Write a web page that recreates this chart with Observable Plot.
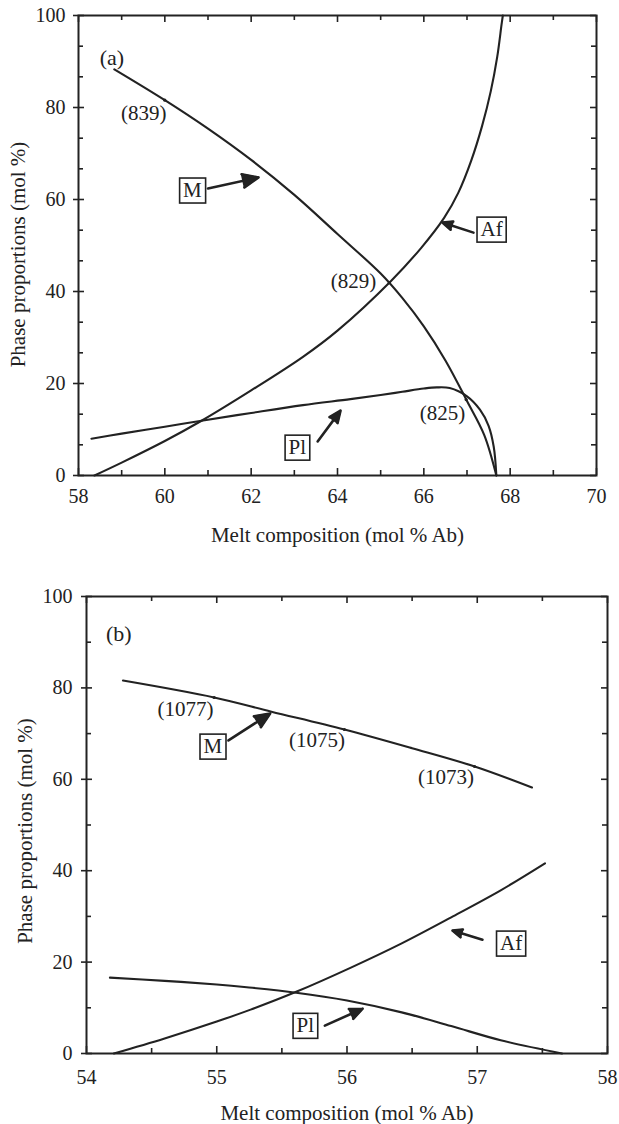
<!DOCTYPE html>
<html><head><meta charset="utf-8">
<script src="https://cdn.jsdelivr.net/npm/d3@7"></script>
<script src="https://cdn.jsdelivr.net/npm/@observablehq/plot@0.6"></script>
<style>
body{margin:0;background:#fff;}
#chart svg{display:block;}
</style></head><body><div id="chart"></div>
<script>
// ---------- Panel (a) data ----------
const aXLabel = "Melt composition (mol % Ab)";
const aYLabel = "Phase proportions (mol %)";
const aXTicks = [58, 60, 62, 64, 66, 68, 70];
const aXMinor = [59, 61, 63, 65, 67, 69];
const aYTicks = [0, 20, 40, 60, 80, 100];
const aYMinor = [6.67, 13.33, 26.67, 33.33, 46.67, 53.33, 66.67, 73.33, 86.67, 93.33];

const aM_x = [58.83, 60.0, 61.0, 62.0, 63.0, 64.0, 65.0, 65.5, 66.0, 66.5, 67.0, 67.4, 67.68];
const aM_y = [88.3, 81.6, 75.4, 68.6, 61.0, 52.5, 43.9, 38.6, 32.4, 25.0, 16.2, 8.8, 0];
const aAf_x = [58.37, 59.0, 60.0, 60.85, 62.0, 63.2, 64.0, 65.24, 65.94, 66.47, 66.8, 67.1, 67.35, 67.55, 67.7, 67.8, 67.83];
const aAf_y = [0, 2.8, 7.5, 11.9, 18.5, 25.8, 31.5, 42.3, 49.5, 56.0, 61.5, 68.5, 76.0, 83.5, 91.0, 98.0, 100];
const aPl_x = [58.3, 59.0, 60.0, 60.85, 62.0, 63.2, 64.3, 65.0, 65.5, 66.0, 66.3, 66.6, 67.0, 67.3, 67.5, 67.62, 67.68];
const aPl_y = [8.0, 9.1, 10.6, 11.9, 13.6, 15.3, 16.6, 17.5, 18.2, 18.9, 19.15, 19.0, 17.2, 14.3, 10.8, 6.2, 0];

const aNoteText = ["(839)", "(829)", "(825)"];
const aNoteX = [59.51, 64.37, 66.43];
const aNoteY = [78.7, 42.2, 13.5];
const aPointX = [60.0, 65.2, 66.98];
const aPointY = [81.6, 41.9, 16.5];
const aBoxText = ["M", "Af", "Pl"];
const aBoxX = [60.64, 67.57, 63.07];
const aBoxY = [62.0, 53.5, 6.1];
const aArrowX1 = [61.0, 67.15, 63.54];
const aArrowY1 = [62.4, 52.8, 7.4];
const aArrowX2 = [62.17, 66.43, 64.07];
const aArrowY2 = [64.8, 55.0, 14.1];
const aPanel = "(a)";
const aPanelX = 58.49, aPanelY = 90.7;

// ---------- Panel (b) data ----------
const bXTicks = [54, 55, 56, 57, 58];
const bXMinor = [54.5, 55.5, 56.5, 57.5];
const bYTicks = [0, 20, 40, 60, 80, 100];
const bYMinor = [10, 30, 50, 70, 90];

const bM_x = [54.28, 54.98, 55.42, 55.98, 56.5, 56.98, 57.42];
const bM_y = [81.6, 77.9, 74.8, 70.9, 66.8, 62.8, 58.2];
const bAf_x = [54.21, 54.6, 55.0, 55.26, 55.61, 56.03, 56.42, 56.8, 57.18, 57.52];
const bAf_y = [0, 3.3, 7.0, 9.6, 13.5, 18.8, 24.1, 29.8, 35.7, 41.6];
const bPl_x = [54.18, 54.6, 55.0, 55.23, 55.61, 56.0, 56.42, 56.8, 57.18, 57.65];
const bPl_y = [16.6, 15.9, 15.1, 14.5, 13.3, 11.6, 9.0, 6.0, 2.9, 0];

const bNoteText = ["(1077)", "(1075)", "(1073)"];
const bNoteX = [54.76, 55.77, 56.76];
const bNoteY = [75.3, 68.5, 60.4];
const bPointX = [54.98, 55.98, 56.98];
const bPointY = [77.9, 70.9, 62.8];
const bBoxText = ["M", "Af", "Pl"];
const bBoxX = [54.97, 57.26, 55.68];
const bBoxY = [67.2, 24.1, 6.1];
const bArrowX1 = [55.09, 57.04, 55.83];
const bArrowY1 = [68.5, 24.9, 6.1];
const bArrowX2 = [55.41, 56.81, 56.12];
const bArrowY2 = [74.4, 26.9, 9.8];
const bPanel = "(b)";
const bPanelX = 54.15, bPanelY = 91.7;

// ---------- helpers ----------
const FONT = "'Liberation Serif', 'Times New Roman', serif";
const INK = "#222";
const zip = (xs, ys) => xs.map((x, i) => ({x, y: ys[i]}));

function panel(cfg) {
  const pw = cfg.width - cfg.marginLeft - cfg.marginRight;
  const ph = cfg.height - cfg.marginTop - cfg.marginBottom;
  const s = {stroke: INK, strokeWidth: 1.6};
  const series = cfg.series.map(([xs, ys]) => zip(xs, ys));
  const notes = cfg.noteText.map((t, i) => ({t, x: cfg.noteX[i], y: cfg.noteY[i]}));
  const boxes = cfg.boxText.map((t, i) => ({t, x: cfg.boxX[i], y: cfg.boxY[i]}));
  const arrows = cfg.ax1.map((x1, i) => ({x1, y1: cfg.ay1[i], x2: cfg.ax2[i], y2: cfg.ay2[i]}));
  const pts = zip(cfg.px, cfg.py);
  return Plot.plot({
    width: cfg.width, height: cfg.height,
    marginTop: cfg.marginTop, marginBottom: cfg.marginBottom,
    marginLeft: cfg.marginLeft, marginRight: cfg.marginRight,
    style: {fontFamily: FONT, fontSize: "20px", color: INK, background: "#fff"},
    x: {domain: cfg.xDomain},
    y: {domain: [0, 100]},
    marks: [
      Plot.axisX({ticks: cfg.xTicks, tickSize: 0, tickPadding: cfg.xPad, tickFormat: d => String(d), label: null, fontSize: 20}),
      Plot.axisY({ticks: cfg.yTicks, tickSize: 0, tickPadding: cfg.yPad, tickFormat: d => String(d), label: null, fontSize: 20}),
      // inward ticks on all four sides
      Plot.ruleX(cfg.xTicks, {x: d => d, insetTop: ph - 7, ...s}),
      Plot.ruleX(cfg.xMinor, {x: d => d, insetTop: ph - 5, ...s}),
      Plot.ruleX(cfg.xTicks, {x: d => d, insetBottom: ph - 7, ...s}),
      Plot.ruleX(cfg.xMinor, {x: d => d, insetBottom: ph - 5, ...s}),
      Plot.ruleY(cfg.yTicks, {y: d => d, insetLeft: -5, insetRight: pw - 6, ...s}),
      Plot.ruleY(cfg.yMinor, {y: d => d, insetRight: pw - 5, ...s}),
      Plot.ruleY(cfg.yTicks, {y: d => d, insetLeft: pw - 6, ...s}),
      Plot.ruleY(cfg.yMinor, {y: d => d, insetLeft: pw - 5, ...s}),
      Plot.frame({stroke: INK, strokeWidth: 2}),
      ...series.map(d => Plot.line(d, {x: "x", y: "y", curve: "catmull-rom", stroke: INK, strokeWidth: 2.1})),
      Plot.dot(pts, {x: "x", y: "y", r: 1.6, fill: INK}),
      Plot.arrow(arrows, {x1: "x1", y1: "y1", x2: "x2", y2: "y2", stroke: INK, strokeWidth: 2.6, headLength: 13, headAngle: 46, ariaLabel: () => "ptr"}),
      Plot.text(notes, {x: "x", y: "y", text: "t", fontSize: 21, fill: INK}),
      Plot.text(boxes, {x: "x", y: "y", text: "t", fontSize: 21, fill: INK, ariaLabel: () => "boxed"}),
      Plot.text([cfg.panel], {x: cfg.panelX, y: cfg.panelY, text: d => d, textAnchor: "start", fontSize: 22, fill: INK}),
      Plot.text([cfg.xLabel], {frameAnchor: "bottom", dy: 60, text: d => d, textAnchor: "middle", lineAnchor: "middle", fontSize: 21, fill: INK}),
      Plot.text([cfg.yLabel], {frameAnchor: "left", dx: cfg.yLabelDx, dy: cfg.yLabelDy, rotate: -90, text: d => d, textAnchor: "middle", lineAnchor: "middle", fontSize: 21, fill: INK})
    ]
  });
}

function decorate(svg) {
  const ns = "http://www.w3.org/2000/svg";
  // boxes around the phase labels
  const set = new Set();
  svg.querySelectorAll('[aria-label="boxed"]').forEach(el => {
    if (el.tagName.toLowerCase() === "text") set.add(el);
    else el.querySelectorAll("text").forEach(t => set.add(t));
  });
  set.forEach(t => {
    const b = t.getBBox();
    const r = document.createElementNS(ns, "rect");
    r.setAttribute("x", b.x - 3.5);
    r.setAttribute("y", b.y);
    r.setAttribute("width", b.width + 7);
    r.setAttribute("height", b.height + 1);
    r.setAttribute("fill", "#fff");
    r.setAttribute("stroke", INK);
    r.setAttribute("stroke-width", 1.6);
    if (t.getAttribute("transform")) r.setAttribute("transform", t.getAttribute("transform"));
    t.parentNode.insertBefore(r, t);
  });
  // fill the arrow heads
  const paths = new Set();
  svg.querySelectorAll('[aria-label="ptr"]').forEach(el => {
    if (el.tagName.toLowerCase() === "path") paths.add(el);
    else el.querySelectorAll("path").forEach(p => paths.add(p));
  });
  paths.forEach(p => {
    const nums = (p.getAttribute("d") || "").match(/-?\d*\.?\d+(?:e[-+]?\d+)?/gi);
    if (!nums || nums.length !== 10) return;
    const v = nums.map(Number);
    const poly = document.createElementNS(ns, "polygon");
    poly.setAttribute("points", `${v[4]},${v[5]} ${v[6]},${v[7]} ${v[8]},${v[9]}`);
    poly.setAttribute("fill", INK);
    poly.setAttribute("stroke", INK);
    poly.setAttribute("stroke-width", 1.5);
    poly.setAttribute("stroke-linejoin", "round");
    if (p.getAttribute("transform")) poly.setAttribute("transform", p.getAttribute("transform"));
    p.parentNode.appendChild(poly);
  });
}

const root = document.getElementById("chart");
const svgA = panel({
  width: 619, height: 550, marginTop: 15, marginBottom: 75, marginLeft: 78, marginRight: 23,
  xDomain: [58, 70], xTicks: aXTicks, xMinor: aXMinor, yTicks: aYTicks, yMinor: aYMinor,
  xPad: 13, yPad: 13,
  series: [[aM_x, aM_y], [aAf_x, aAf_y], [aPl_x, aPl_y]],
  noteText: aNoteText, noteX: aNoteX, noteY: aNoteY, px: aPointX, py: aPointY,
  boxText: aBoxText, boxX: aBoxX, boxY: aBoxY,
  ax1: aArrowX1, ay1: aArrowY1, ax2: aArrowX2, ay2: aArrowY2,
  panel: aPanel, panelX: aPanelX, panelY: aPanelY,
  xLabel: aXLabel, yLabel: aYLabel, yLabelDx: -60, yLabelDy: 9
});
root.appendChild(svgA);
decorate(svgA);
const svgB = panel({
  width: 619, height: 574, marginTop: 46, marginBottom: 71, marginLeft: 86, marginRight: 12,
  xDomain: [54, 58], xTicks: bXTicks, xMinor: bXMinor, yTicks: bYTicks, yMinor: bYMinor,
  xPad: 16, yPad: 14,
  series: [[bM_x, bM_y], [bAf_x, bAf_y], [bPl_x, bPl_y]],
  noteText: bNoteText, noteX: bNoteX, noteY: bNoteY, px: bPointX, py: bPointY,
  boxText: bBoxText, boxX: bBoxX, boxY: bBoxY,
  ax1: bArrowX1, ay1: bArrowY1, ax2: bArrowX2, ay2: bArrowY2,
  panel: bPanel, panelX: bPanelX, panelY: bPanelY,
  xLabel: aXLabel, yLabel: aYLabel, yLabelDx: -61, yLabelDy: 6
});
root.appendChild(svgB);
decorate(svgB);
</script></body></html>
